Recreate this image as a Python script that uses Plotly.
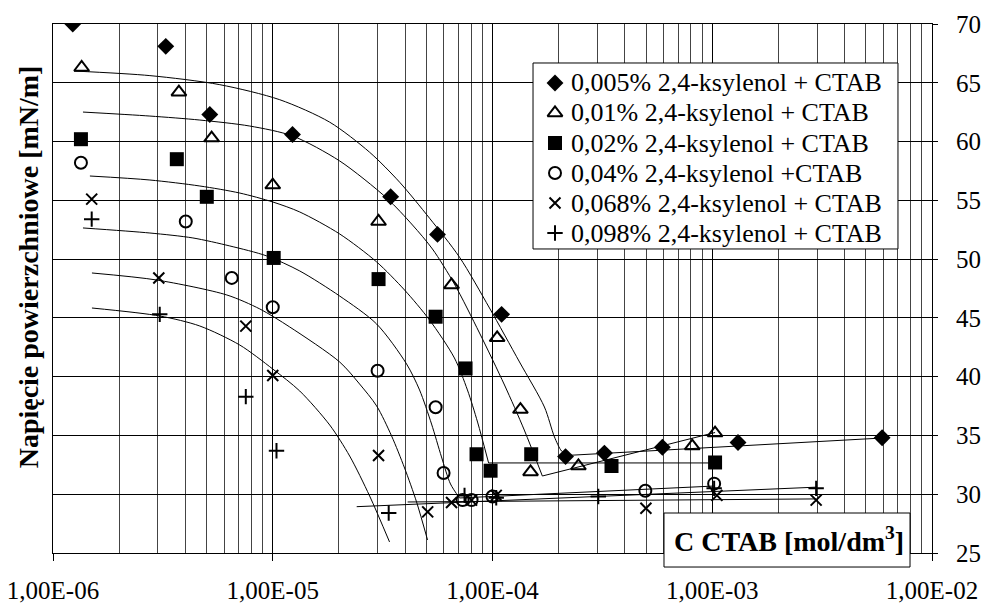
import plotly.graph_objects as go

# ---- measured surface tension vs CTAB concentration ----
names = [
    "0,005% 2,4-ksylenol + CTAB",
    "0,01% 2,4-ksylenol + CTAB",
    "0,02% 2,4-ksylenol + CTAB",
    "0,04% 2,4-ksylenol +CTAB",
    "0,068% 2,4-ksylenol + CTAB",
    "0,098% 2,4-ksylenol + CTAB",
]

d_x = [1.23e-6, 3.26e-6, 5.17e-6, 1.23e-5, 3.44e-5, 5.62e-5, 1.10e-4, 2.15e-4, 3.23e-4, 5.93e-4, 1.31e-3, 5.93e-3]
d_y = [70.0, 68.1, 62.3, 60.6, 55.3, 52.1, 45.3, 33.2, 33.5, 34.0, 34.4, 34.8]

t_x = [1.35e-6, 3.74e-6, 5.27e-6, 1.0e-5, 3.03e-5, 6.51e-5, 1.05e-4, 1.34e-4, 1.49e-4, 2.46e-4, 8.11e-4, 1.03e-3]
t_y = [66.3, 64.2, 60.3, 56.3, 53.2, 47.8, 43.3, 37.2, 31.9, 32.4, 34.1, 35.2]

s_x = [1.34e-6, 3.66e-6, 5.01e-6, 1.01e-5, 3.03e-5, 5.51e-5, 7.54e-5, 8.46e-5, 9.8e-5, 1.50e-4, 3.48e-4, 1.03e-3]
s_y = [60.2, 58.5, 55.3, 50.1, 48.3, 45.1, 40.7, 33.4, 32.0, 33.4, 32.4, 32.7]

c_x = [1.34e-6, 4.02e-6, 6.51e-6, 1.0e-5, 3.0e-5, 5.51e-5, 5.99e-5, 7.31e-5, 8.03e-5, 1.0e-4, 4.96e-4, 1.02e-3]
c_y = [58.2, 53.2, 48.4, 45.9, 40.5, 37.4, 31.8, 29.5, 29.5, 29.8, 30.3, 30.9]

x_x = [1.5e-6, 3.03e-6, 7.54e-6, 1.0e-5, 3.03e-5, 5.07e-5, 6.51e-5, 8.03e-5, 1.04e-4, 4.99e-4, 1.05e-3, 2.97e-3]
x_y = [55.1, 48.4, 44.3, 40.1, 33.3, 28.5, 29.3, 29.5, 29.9, 28.8, 29.9, 29.5]

p_x = [1.5e-6, 3.06e-6, 7.54e-6, 1.04e-5, 3.37e-5, 7.46e-5, 1.04e-4, 3.03e-4, 1.02e-3, 2.97e-3]
p_y = [53.4, 45.3, 38.3, 33.7, 28.4, 29.9, 29.7, 29.8, 30.5, 30.5]

# ---- fitted trend curves: descending branch (spline) + plateau above the CMC ----
fit_d_x = [1.246e-6, 2.76e-6, 5.74e-6, 1.076e-5, 1.816e-5, 2.76e-5, 3.78e-5, 5.17e-5, 7.08e-5, 9.69e-5,
           1.327e-4, 1.723e-4, 1.914e-4, 2.06e-4, 2.193e-4]
fit_d_y = [66.0, 65.61, 64.84, 63.56, 61.65, 59.09, 56.54, 53.48, 50.16, 45.84,
           41.25, 37.42, 34.87, 33.68, 33.30]
lin_d_x = [2.193e-4, 5.93e-3]
lin_d_y = [33.30, 34.78]

fit_t_x = [1.369e-6, 2.76e-6, 4.656e-6, 7.86e-6, 1.233e-5, 2.016e-5, 3.296e-5, 4.325e-5, 5.33e-5, 6.71e-5,
           8.73e-5, 1.134e-4, 1.395e-4, 1.686e-4]
fit_t_y = [62.51, 62.17, 61.83, 61.32, 60.47, 58.35, 55.20, 52.90, 50.86, 47.88,
           43.71, 39.29, 35.46, 31.55]
lin_t_x = [1.686e-4, 1.03e-3]
lin_t_y = [31.55, 35.25]

fit_s_x = [1.472e-6, 2.76e-6, 4.656e-6, 7.08e-6, 1.0e-5, 1.327e-5, 2.016e-5, 2.97e-5, 3.98e-5, 5.17e-5,
           6.71e-5, 7.69e-5, 8.55e-5, 9.6e-5]
fit_s_y = [57.07, 56.73, 56.22, 55.62, 54.86, 54.01, 52.14, 49.76, 47.37, 44.82,
           41.59, 38.87, 36.14, 32.66]
lin_s_x = [9.6e-5, 1.03e-3]
lin_s_y = [32.66, 32.66]

fit_c_x = [1.369e-6, 2.76e-6, 4.33e-6, 6.375e-6, 9.39e-6, 1.327e-5, 2.016e-5, 2.97e-5, 4.064e-5, 4.656e-5,
           5.28e-5, 5.86e-5, 6.44e-5, 7.08e-5]
fit_c_y = [52.65, 52.22, 51.80, 51.12, 50.27, 48.99, 46.86, 44.48, 41.08, 38.87,
           35.97, 33.17, 30.87, 29.68]
lin_c_x = [7.08e-5, 1.03e-3]
lin_c_y = [29.68, 30.7]

fit_x_x = [1.504e-6, 2.97e-6, 6.18e-6, 8.73e-6, 1.194e-5, 2.016e-5, 2.483e-5, 2.97e-5, 3.475e-5, 3.98e-5,
           4.513e-5, 5.063e-5]
fit_x_y = [48.82, 48.22, 46.95, 45.76, 44.23, 41.25, 39.38, 37.51, 34.95, 32.23,
           29.34, 26.11]
lin_x_x = [4.11e-5, 2.97e-3]
lin_x_y = [29.34, 29.6]

fit_p_x = [1.504e-6, 3.065e-6, 4.656e-6, 7.08e-6, 1.0e-5, 1.327e-5, 1.816e-5, 2.239e-5, 2.76e-5, 3.40e-5]
fit_p_y = [45.84, 45.16, 44.31, 42.69, 40.65, 38.78, 35.89, 33.25, 29.85, 25.94]
lin_p_x = [2.41e-5, 2.97e-3]
lin_p_y = [28.94, 30.6]

x_tickvals = [1e-6, 1e-5, 1e-4, 1e-3, 1e-2]
x_ticktext = ["1,00E-06", "1,00E-05", "1,00E-04", "1,00E-03", "1,00E-02"]
y_tickvals = [25, 30, 35, 40, 45, 50, 55, 60, 65, 70]

SERIF = "Liberation Serif, Times New Roman, serif"

fig = go.Figure()

curves = [
    (fit_d_x, fit_d_y, lin_d_x, lin_d_y),
    (fit_t_x, fit_t_y, lin_t_x, lin_t_y),
    (fit_s_x, fit_s_y, lin_s_x, lin_s_y),
    (fit_c_x, fit_c_y, lin_c_x, lin_c_y),
    (fit_x_x, fit_x_y, lin_x_x, lin_x_y),
    (fit_p_x, fit_p_y, lin_p_x, lin_p_y),
]
for fx, fy, lx, ly in curves:
    fig.add_trace(go.Scatter(x=fx, y=fy, mode="lines", showlegend=False, hoverinfo="skip",
                             line=dict(color="black", width=1, shape="spline", smoothing=0.8)))
    fig.add_trace(go.Scatter(x=lx, y=ly, mode="lines", showlegend=False, hoverinfo="skip",
                             line=dict(color="black", width=1)))

markers = [
    dict(symbol="diamond", size=13, color="black"),
    dict(symbol="triangle-up-open", size=13, color="black", line=dict(width=2, color="black")),
    dict(symbol="square", size=14, color="black"),
    dict(symbol="circle-open", size=12, color="black", line=dict(width=2, color="black")),
    dict(symbol="x-thin", size=11, color="black", line=dict(width=2, color="black")),
    dict(symbol="cross-thin", size=11, color="black", line=dict(width=2, color="black")),
]
data = [(d_x, d_y), (t_x, t_y), (s_x, s_y), (c_x, c_y), (x_x, x_y), (p_x, p_y)]
for name, (sx, sy), mk in zip(names, data, markers):
    fig.add_trace(go.Scatter(x=sx, y=sy, mode="markers", name=name, marker=mk, showlegend=False))

# ---- legend panel on an overlay 0..1 frame spanning the plot area ----
leg_left, leg_right, leg_top, leg_bottom = 0.5461, 0.9613, 0.9263, 0.5747
leg_rows = [0.8885, 0.8318, 0.7750, 0.7183, 0.6616, 0.6049]
leg_marker_x = 0.5711
leg_text_x = 0.587

# white panel with a black frame (drawn as a trace so it sits above the grid)
fig.add_trace(go.Scatter(
    x=[leg_left, leg_right, leg_right, leg_left, leg_left],
    y=[leg_bottom, leg_bottom, leg_top, leg_top, leg_bottom],
    xaxis="x2", yaxis="y2", mode="lines", fill="toself", fillcolor="white",
    line=dict(color="black", width=1), showlegend=False, hoverinfo="skip"))

for name, mk, ry in zip(names, markers, leg_rows):
    fig.add_trace(go.Scatter(x=[leg_marker_x], y=[ry], xaxis="x2", yaxis="y2", mode="markers",
                             marker=mk, showlegend=False, hoverinfo="skip", cliponaxis=False))

annotations = [
    dict(text=n, xref="paper", yref="paper", x=leg_text_x, y=ry, xanchor="left", yanchor="middle",
         showarrow=False, font=dict(family=SERIF, size=26, color="black"))
    for n, ry in zip(names, leg_rows)
]
annotations += [
    dict(text="<b>Napięcie powierzchniowe [mN/m]</b>", textangle=-90,
         xref="paper", yref="paper", x=-25 / 879, y=0.54,
         xanchor="center", yanchor="middle", showarrow=False,
         font=dict(family=SERIF, size=28, color="black")),
    dict(text="<b>C CTAB [mol/dm<sup>3</sup>]</b>",
         xref="paper", yref="paper", x=0.837, y=0.0246,
         xanchor="center", yanchor="middle", showarrow=False,
         font=dict(family=SERIF, size=28, color="black")),
]

shapes = [
    dict(type="rect", xref="paper", yref="paper", x0=0.6951, x1=0.975, y0=-0.0265, y1=0.0756,
         fillcolor="white", line=dict(color="black", width=1), layer="above"),
]

fig.update_layout(
    width=981, height=603,
    margin=dict(l=53, r=49, t=24, b=50, autoexpand=False),
    paper_bgcolor="white", plot_bgcolor="white",
    font=dict(family=SERIF, color="black", size=25),
    showlegend=False,
    xaxis=dict(
        type="log", range=[-6, -2], automargin=False,
        tickvals=x_tickvals, ticktext=x_ticktext,
        tickfont=dict(family=SERIF, size=25),
        ticks="outside", ticklen=7, tickcolor="black", ticklabelstandoff=8,
        showgrid=True, gridcolor="black", gridwidth=1,
        minor=dict(dtick="D1", showgrid=True, gridcolor="#444", gridwidth=1, ticks=""),
        showline=True, linecolor="black", linewidth=1, mirror=True,
        zeroline=False,
    ),
    yaxis=dict(
        side="right", range=[25, 70], automargin=False,
        tickvals=y_tickvals,
        tickfont=dict(family=SERIF, size=25),
        ticks="outside", ticklen=5, tickcolor="black", ticklabelstandoff=13,
        showgrid=True, gridcolor="black", gridwidth=1,
        showline=True, linecolor="black", linewidth=1, mirror=True,
        zeroline=False,
    ),
    xaxis2=dict(overlaying="x", range=[0, 1], visible=False, fixedrange=True),
    yaxis2=dict(overlaying="y", range=[0, 1], visible=False, fixedrange=True),
    annotations=annotations,
    shapes=shapes,
)

fig.write_html("out.html")
